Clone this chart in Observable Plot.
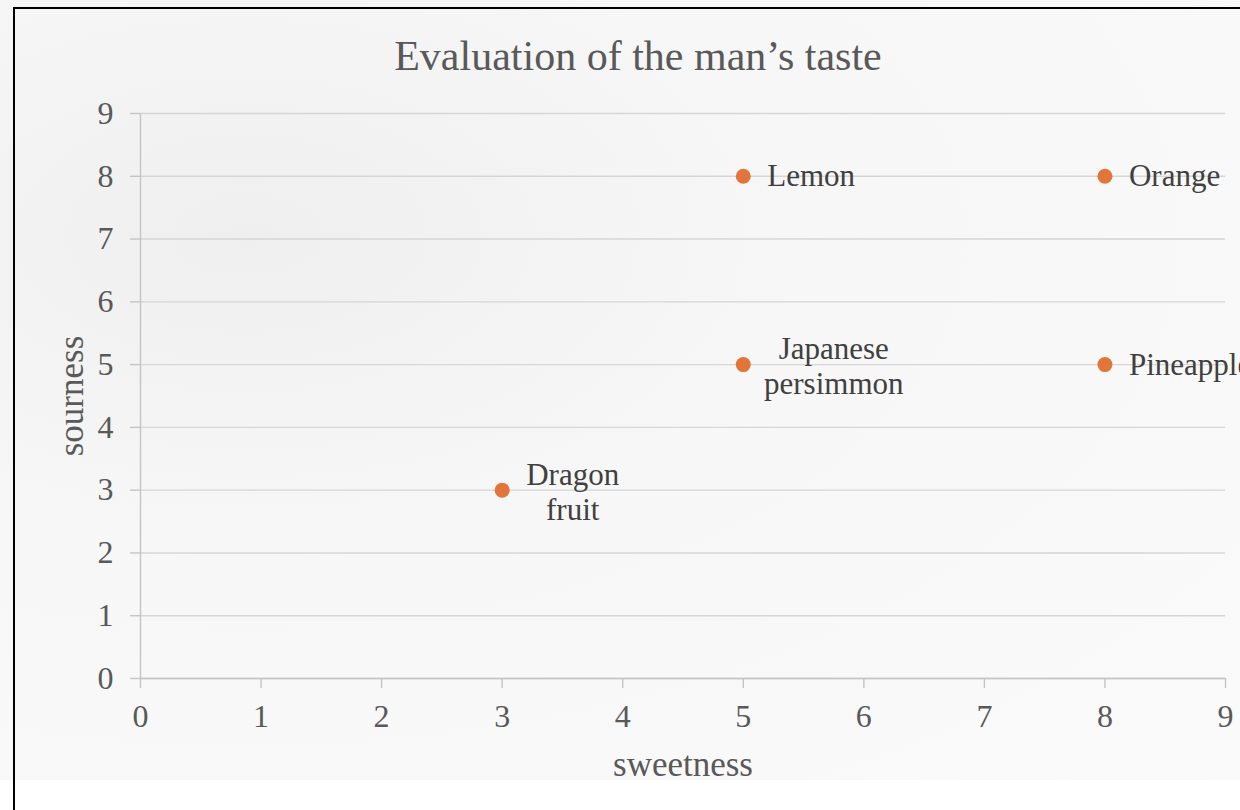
<!DOCTYPE html>
<html>
<head>
<meta charset="utf-8">
<script src="https://cdn.jsdelivr.net/npm/d3@7"></script>
<script src="https://cdn.jsdelivr.net/npm/@observablehq/plot@0.6"></script>
<style>
  html, body { margin:0; padding:0; width:1240px; height:810px; overflow:hidden; background:#ffffff; }
  #bg { position:absolute; left:0; top:0; width:1240px; height:780px;
        background: radial-gradient(ellipse at 20% 30%, #efefef 0%, #f7f7f7 40%, #fafafa 100%); }
  #frame { position:absolute; left:13px; top:7px; width:1300px; height:900px;
           border-left:2px solid #000; border-top:2px solid #000; }
  #title { position:absolute; left:0; width:1276px; top:31px; text-align:center;
           font-family:"Liberation Serif", serif; font-size:42px; color:#595959; line-height:50px; }
  #chart { position:absolute; left:0; top:0; }
</style>
</head>
<body>
<div id="bg"></div>
<div id="frame"></div>
<div id="chart"></div>
<div id="title">Evaluation of the man’s taste</div>
<script>
const fruits    = ["Dragon\nfruit", "Lemon", "Japanese\npersimmon", "Orange", "Pineapple"];
const sweetness = [3, 5, 5, 8, 8];
const sourness  = [3, 8, 5, 8, 5];
const xTicks = [0,1,2,3,4,5,6,7,8,9];
const yTicks = [0,1,2,3,4,5,6,7,8,9];
const xLabel = "sweetness";
const yLabel = "sourness";

const data = fruits.map((f, i) => ({fruit: f, x: sweetness[i], y: sourness[i]}));
const single = data.filter(d => !d.fruit.includes("\n"));
const dragon = data.filter(d => d.fruit.startsWith("Dragon"));
const persimmon = data.filter(d => d.fruit.startsWith("Japanese"));

const font = "Liberation Serif";
const txt = "#404040";
const tick = "#595959";
const fmt = d => String(d);

const chart = Plot.plot({
  width: 1240, height: 810,
  marginLeft: 140, marginRight: 15, marginTop: 113, marginBottom: 132,
  style: {fontFamily: font, background: "transparent", overflow: "hidden"},
  x: {domain: [0, 9]},
  y: {domain: [0, 9]},
  marks: [
    Plot.gridY(yTicks, {stroke: "#d6d6d6", strokeOpacity: 1, strokeWidth: 1.4}),
    Plot.ruleX([0], {stroke: "#c4c4c4", strokeWidth: 1.4}),
    Plot.ruleY([0], {stroke: "#c4c4c4", strokeWidth: 1.4}),
    Plot.axisX(xTicks, {tickSize: 10, tickPadding: 16, fontSize: 32, tickFormat: fmt, stroke: "#c4c4c4", strokeWidth: 1.4, fill: tick, label: null}),
    Plot.axisY(yTicks, {tickSize: 10, tickPadding: 17, fontSize: 32, tickFormat: fmt, stroke: "#c4c4c4", strokeWidth: 1.4, fill: tick, label: null}),
    Plot.text([xLabel], {frameAnchor: "bottom", textAnchor: "middle", lineAnchor: "middle", dy: 86, fontSize: 35, fill: tick}),
    Plot.text([yLabel], {frameAnchor: "left", textAnchor: "middle", lineAnchor: "middle", rotate: -90, dx: -69, fontSize: 35, fill: tick}),
    Plot.dot(data, {x: "x", y: "y", r: 7.5, fill: "#E2763A", stroke: "none"}),
    Plot.text(single, {x: "x", y: "y", text: "fruit", textAnchor: "start", dx: 24, fontSize: 31, fill: txt}),
    Plot.text(dragon, {x: "x", y: "y", text: "fruit", textAnchor: "middle", dx: 70.5, dy: 1, lineHeight: 1.13, fontSize: 31, fill: txt}),
    Plot.text(persimmon, {x: "x", y: "y", text: "fruit", textAnchor: "middle", dx: 90.5, dy: 1, lineHeight: 1.13, fontSize: 31, fill: txt})
  ]
});
document.getElementById("chart").appendChild(chart);
</script>
</body>
</html>
